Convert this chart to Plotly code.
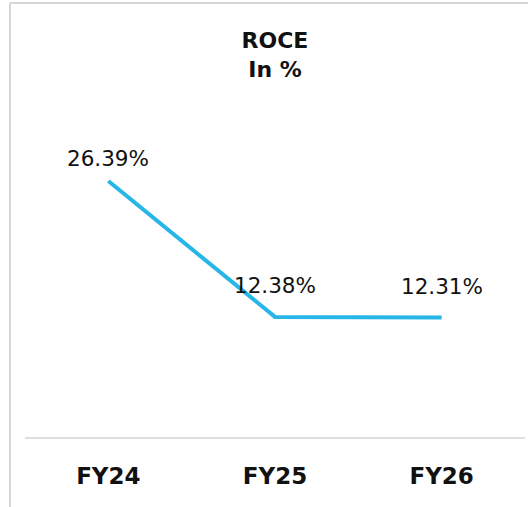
import plotly.graph_objects as go

# données
years = ["FY24", "FY25", "FY26"]
roce = [26.39, 12.38, 12.31]
labels = [f"{v:.2f}%" for v in roce]

W, H = 528, 507
ML, MR, MT, MB = 25, 3, 146, 70
PW, PH = W - ML - MR, H - MT - MB

LINE_COLOR = "#27b6e8"
TXT = "#111111"
FONT = "DejaVu Sans, sans-serif"

fig = go.Figure(go.Scatter(
    x=years, y=roce, mode="lines",
    line=dict(color=LINE_COLOR, width=4),
    hoverinfo="skip",
))

# étiquettes de valeurs
label_shift = [23, 31, 31]
for x, y, t, s in zip(years, roce, labels, label_shift):
    fig.add_annotation(x=x, y=y, text=t, showarrow=False, yshift=s,
                       font=dict(size=21.5, color=TXT, family=FONT))


def px_x(p):
    return (p - ML) / PW


def px_y(p):
    return (H - MB - p) / PH


# cadre gris (haut + gauche)
border = dict(color="#d6d6d6", width=2)
fig.add_shape(type="line", xref="paper", yref="paper",
              x0=px_x(10), x1=px_x(10), y0=px_y(3), y1=px_y(H + 5), line=border)
fig.add_shape(type="line", xref="paper", yref="paper",
              x0=px_x(10), x1=px_x(W + 5), y0=px_y(3), y1=px_y(3), line=border)

fig.update_layout(
    width=W, height=H,
    margin=dict(l=ML, r=MR, t=MT, b=MB),
    paper_bgcolor="white", plot_bgcolor="white",
    showlegend=False,
    font=dict(family=FONT, color=TXT),
    title=dict(text="<b>ROCE<br>In %</b>", x=0.5, xref="paper", xanchor="center",
               y=1 - 48 / H, yanchor="top",
               font=dict(size=22, color=TXT, family=FONT)),
    xaxis=dict(showgrid=False, zeroline=False, showline=True,
               linecolor="#dedede", linewidth=2,
               range=[-0.5, 2.5], ticks="", ticklabelstandoff=17,
               tickfont=dict(size=23, color=TXT, family=FONT),
               tickvals=years, ticktext=[f"<b>{y}</b>" for y in years]),
    yaxis=dict(visible=False, range=[0, 30]),
)

fig.write_html("out.html", config={"displayModeBar": False},
               post_script="document.body.style.margin='0';")
